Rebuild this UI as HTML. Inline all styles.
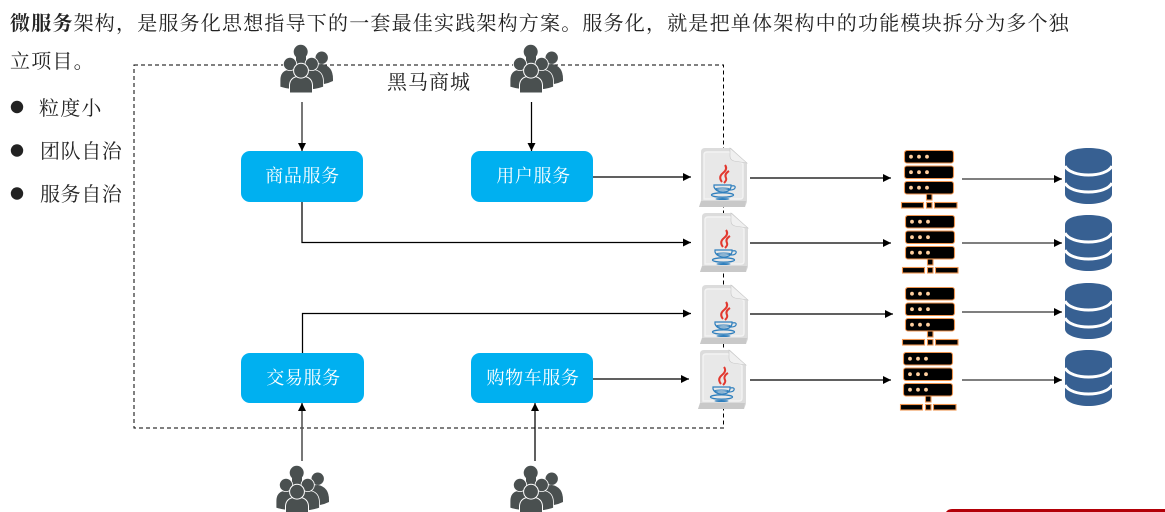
<!DOCTYPE html>
<html><head><meta charset="utf-8"><style>
html,body{margin:0;padding:0;background:#fff}
svg{display:block}
text{font-family:"Liberation Serif","Noto Serif CJK SC",serif}
</style></head><body>
<svg width="1165" height="512" viewBox="0 0 1165 512" xmlns="http://www.w3.org/2000/svg">
<defs>
<marker id="a" markerWidth="9" markerHeight="9" refX="8" refY="4" orient="auto" markerUnits="userSpaceOnUse"><path d="M0 0L8 4L0 8z" fill="#000"/></marker>
<g id="people">
<path d="M37 20Q39 19 43 19Q54 21 54 34V36Q50 38 45 39L36 28z" fill="#4a5050"/>
<circle cx="42.7" cy="12.7" r="6.2" fill="#4a5050"/>
<rect x="17" y="11" width="10" height="10" fill="#4a5050"/>
<path d="M1 42V35Q1 26 9 24.5H14Q23 26 25 35V45Q10 45 1 42z" fill="#4a5050" stroke="#fff" stroke-width=".8"/>
<path d="M19 36Q21 26 29 24.5H35Q44 26 44.5 36V42Q36 45 26 45z" fill="#4a5050" stroke="#fff" stroke-width=".8"/>
<circle cx="21.7" cy="6.8" r="7" fill="#4a5050"/>
<circle cx="11" cy="19" r="6.6" fill="#4a5050" stroke="#fff" stroke-width=".8"/>
<circle cx="32.7" cy="19" r="6.6" fill="#4a5050" stroke="#fff" stroke-width=".8"/>
<path d="M10.5 48V40Q11 33 18 31.5H26Q33 33 33.5 40V48z" fill="#4a5050" stroke="#fff" stroke-width="1"/>
<circle cx="22" cy="25.7" r="7.4" fill="#4a5050" stroke="#fff" stroke-width="1"/>
</g>
<g id="java">
<path d="M2 4Q2 0 6 0H32L48 15V54L46 59H0L2 53z" fill="#dcdcdc"/>
<path d="M0 59L2 53H47L46 59z" fill="#c9c9c9"/>
<path d="M5 7Q5 4 8 4H30L44 16V48Q44 51 41 51H5z" fill="#e8e8e8" stroke="#f3f3f3" stroke-width="1.4"/>
<path d="M31 0L48 15L35 13Q31 12 31 8z" fill="#f0f0f0" stroke="#c8c8c8" stroke-width=".6"/>
<path d="M26 17Q29 21 24 25Q19 29 23 34M30 23Q25 26 27 30Q28 32 25 35" fill="none" stroke="#e2382f" stroke-width="2"/>
<path d="M15 37H32V39Q31 44 24 44Q17 44 15 39zM32 38Q37 37 36 40Q35 42 31 42" fill="none" stroke="#2f7fbd" stroke-width="1.2"/>
<ellipse cx="23.5" cy="41" rx="7" ry="1" fill="none" stroke="#2f7fbd" stroke-width="1"/>
<ellipse cx="23.5" cy="47" rx="11" ry="2.2" fill="none" stroke="#2f7fbd" stroke-width="1.3"/>
<ellipse cx="23.5" cy="51" rx="7" ry="1" fill="#2f7fbd"/>
</g>
<g id="server" fill="#000" stroke="#ef9550" stroke-width="1.1">
<rect x="3.5" y=".5" width="49" height="12.5" rx="2.5"/>
<rect x="3.5" y="16" width="49" height="12.5" rx="2.5"/>
<rect x="3.5" y="31.5" width="49" height="12.5" rx="2.5"/>
<rect x="25.5" y="44" width="5.5" height="6"/>
<rect x=".5" y="52.5" width="22" height="5.5"/>
<rect x="25.5" y="52.5" width="5.5" height="5.5"/>
<rect x="33.5" y="52.5" width="22.5" height="5.5"/>
<g fill="#ffcf9f" stroke="none">
<circle cx="10" cy="6.7" r="1.9"/><circle cx="18" cy="6.7" r="1.9"/><circle cx="26" cy="6.7" r="1.9"/>
<circle cx="10" cy="22.2" r="1.9"/><circle cx="18" cy="22.2" r="1.9"/><circle cx="26" cy="22.2" r="1.9"/>
<circle cx="10" cy="37.7" r="1.9"/><circle cx="18" cy="37.7" r="1.9"/><circle cx="26" cy="37.7" r="1.9"/>
</g>
</g>
<g id="db">
<path d="M0 10C0 3 11 0 23.5 0S47 3 47 10V46C47 52 36 56 23.5 56S0 52 0 46z" fill="#376092"/>
<path d="M0 18C3 24 13 27 23.5 27S44 24 47 18" fill="none" stroke="#fff" stroke-width="3"/>
<path d="M0 35C3 41 13 44 23.5 44S44 41 47 35" fill="none" stroke="#fff" stroke-width="3"/>
</g>
</defs>

<text x="10" y="30" font-size="20" letter-spacing="1.2" fill="#222"><tspan font-weight="bold">微服务</tspan>架构，是服务化思想指导下的一套最佳实践架构方案。服务化，就是把单体架构中的功能模块拆分为多个独</text>
<text x="10" y="68" font-size="20" letter-spacing="1.2" fill="#222">立项目。</text>
<circle cx="17" cy="107" r="6.2" fill="#222"/><circle cx="17" cy="150.5" r="6.2" fill="#222"/><circle cx="17" cy="193.5" r="6.2" fill="#222"/>
<text x="39" y="115" font-size="20" letter-spacing="1.2" fill="#222">粒度小</text>
<text x="40" y="158" font-size="20" letter-spacing=".6" fill="#222">团队自治</text>
<text x="40" y="201" font-size="20" letter-spacing=".6" fill="#222">服务自治</text>

<rect x="134" y="65" width="589.5" height="363" fill="none" stroke="#000" stroke-width="1" stroke-dasharray="4 3"/>
<text x="387" y="89" font-size="20" letter-spacing="1" fill="#222">黑马商城</text>

<use href="#people" x="279" y="45"/><use href="#people" x="509" y="45"/>
<use href="#people" x="275" y="466"/><use href="#people" x="509" y="466"/>

<g fill="#00b0f0">
<rect x="241" y="151" width="122" height="51" rx="9"/>
<rect x="471" y="151" width="122" height="51" rx="9"/>
<rect x="241" y="353" width="123" height="50" rx="9"/>
<rect x="471" y="353" width="122" height="50" rx="9"/>
</g>
<g font-size="18" letter-spacing=".6" fill="#fff" text-anchor="middle">
<text x="302.5" y="182">商品服务</text>
<text x="533.5" y="182">用户服务</text>
<text x="303.5" y="384">交易服务</text>
<text x="533" y="384">购物车服务</text>
</g>

<g fill="none" stroke="#000" stroke-width="1.25" marker-end="url(#a)">
<path d="M531.5 102V151"/>
<path d="M593 177H691"/>
<path d="M302 202V242.5H691"/>
<path d="M302.5 353V313.5H691"/>
<path d="M593 379H689"/>
<path d="M535 461V403"/>
<path d="M750 178H891"/>
<path d="M750 243H891"/>
<path d="M750 314H893"/>
<path d="M750 380H891"/>
</g>
<g fill="none" stroke="#555" stroke-width="1.6" marker-end="url(#a)">
<path d="M302 102V151"/>
<path d="M302 461V403"/>
<path d="M962 179H1062"/>
<path d="M962 243H1062"/>
<path d="M962 312H1062"/>
<path d="M962 380H1062"/>
</g>

<use href="#java" x="699" y="148"/><use href="#java" x="700" y="213"/>
<use href="#java" x="700" y="285"/><use href="#java" x="698" y="350"/>
<use href="#server" x="901" y="150"/><use href="#server" x="902" y="215"/>
<use href="#server" x="902" y="287"/><use href="#server" x="900" y="352"/>
<use href="#db" x="1065" y="148"/><use href="#db" x="1065" y="215"/>
<use href="#db" x="1065" y="283"/><use href="#db" x="1065" y="350"/>

<path d="M946 512Q948 509 952 509H1165V512z" fill="#b30008"/>
</svg>
</body></html>
